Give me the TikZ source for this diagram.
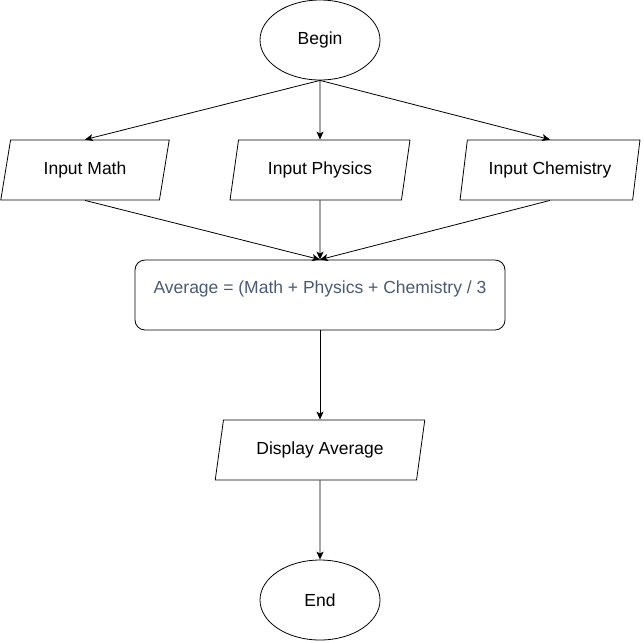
\documentclass[tikz,border=0pt]{standalone}
\usepackage{fontspec}
\setmainfont{Liberation Sans}
\usetikzlibrary{positioning}
\usetikzlibrary{arrows.meta}
\usetikzlibrary{shapes.geometric}
\definecolor{avgtext}{HTML}{4A5A72}

\begin{document}
\begin{tikzpicture}[x=1pt, y=-1pt,
                        every node/.style={draw, line width=0.8pt, font=\fontsize{17.5}{20}\selectfont, inner sep=0pt},
                        terminal/.style={ellipse, minimum width=120pt, minimum height=80pt},
                        io/.style={trapezium, trapezium left angle=71.57, trapezium right angle=108.43,
                                   trapezium stretches=true, minimum height=60pt},
                        process/.style={rounded corners=10pt, minimum width=370pt, minimum height=70pt,
                                        text=avgtext, text height=13pt, text depth=16pt},
                        flow/.style={line width=0.8pt, -{Stealth[length=8pt, width=7pt, inset=2pt]}}]
            \useasboundingbox (0,0) rectangle (644,641);
            \node[terminal] (begin) at (320,40) {Begin};

            \node[io, minimum width=170pt] (math) at (85,170) {Input Math};
            \node[io, minimum width=180pt] (physics) at (320,170) {Input Physics};
            \node[io, minimum width=180pt] (chem) at (550,170) {Input Chemistry};

            \node[process] (avg) at (320,295) {Average = (Math + Physics + Chemistry / 3};
            \node[io, minimum width=210pt] (display) at (320,450) {Display Average};
            \node[terminal] (end) at (320,600) {End};

            \draw[flow] (begin.south) -- (math.north);
            \draw[flow] (begin.south) -- (physics.north);
            \draw[flow] (begin.south) -- (chem.north);
            \draw[flow] (math.south) -- (avg.north);
            \draw[flow] (physics.south) -- (avg.north);
            \draw[flow] (chem.south) -- (avg.north);
            \draw[flow] (avg) -- (display);
            \draw[flow] (display) -- (end);
        \end{tikzpicture}
\end{document}
